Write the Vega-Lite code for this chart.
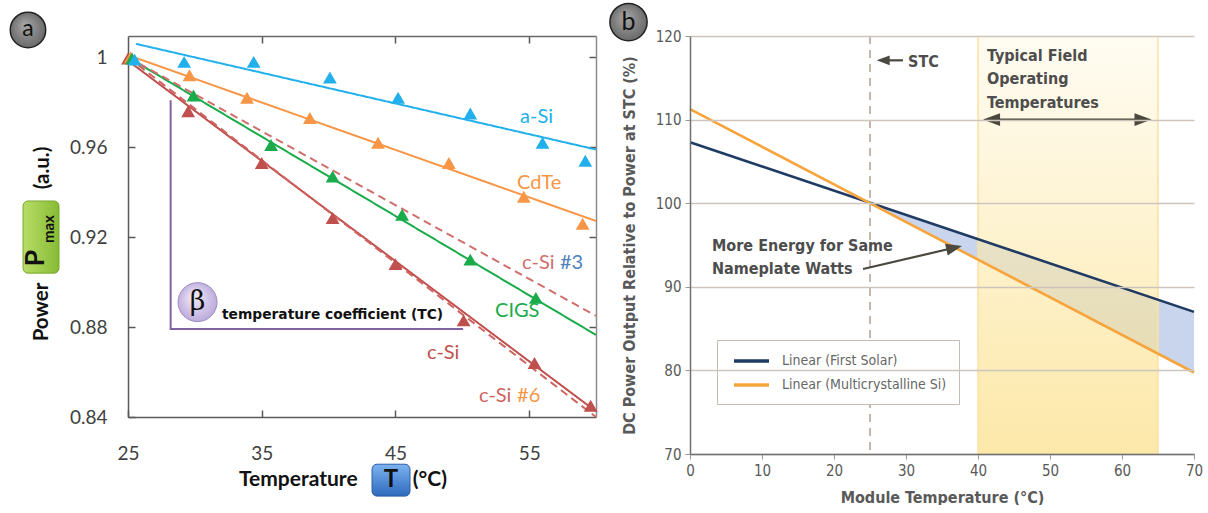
{
  "$schema": "https://vega.github.io/schema/vega-lite/v6.json",
  "padding": {"left": 7, "top": 0, "right": 0, "bottom": 0},
  "background": "white",
  "config": {"view": {"stroke": null}, "axis": {"grid": false}},
  "bounds": "flush",
  "spacing": 94,
  "resolve": {"scale": {"color": "independent", "strokeDash": "independent"}},
  "datasets": {
    "fitsL": [
      {"series": "a-Si", "T": 25.6, "P": 1.006}, {"series": "a-Si", "T": 60, "P": 0.959},
      {"series": "CdTe", "T": 25, "P": 1.001}, {"series": "CdTe", "T": 60, "P": 0.9272},
      {"series": "CIGS", "T": 25, "P": 1.0}, {"series": "CIGS", "T": 60, "P": 0.8765},
      {"series": "c-Si", "T": 25, "P": 0.9985}, {"series": "c-Si", "T": 60, "P": 0.8425},
      {"series": "c-Si #3", "T": 25, "P": 1.0}, {"series": "c-Si #3", "T": 60, "P": 0.885},
      {"series": "c-Si #6", "T": 25, "P": 1.0}, {"series": "c-Si #6", "T": 60, "P": 0.84}
    ],
    "ptsL": [
      {"series": "c-Si", "T": 25, "P": 0.9995},
      {"series": "CdTe", "T": 25.2, "P": 1.0},
      {"series": "CIGS", "T": 25.3, "P": 0.9995},
      {"series": "a-Si", "T": 25.5, "P": 0.999},
      {"series": "a-Si", "T": 29.2, "P": 0.998}, {"series": "a-Si", "T": 34.4, "P": 0.998},
      {"series": "a-Si", "T": 40.1, "P": 0.991}, {"series": "a-Si", "T": 45.2, "P": 0.982},
      {"series": "a-Si", "T": 50.6, "P": 0.975}, {"series": "a-Si", "T": 56.0, "P": 0.962},
      {"series": "a-Si", "T": 59.2, "P": 0.954},
      {"series": "CdTe", "T": 29.6, "P": 0.992}, {"series": "CdTe", "T": 33.9, "P": 0.982},
      {"series": "CdTe", "T": 38.6, "P": 0.973}, {"series": "CdTe", "T": 43.7, "P": 0.962},
      {"series": "CdTe", "T": 49.0, "P": 0.953}, {"series": "CdTe", "T": 54.6, "P": 0.938},
      {"series": "CdTe", "T": 59.0, "P": 0.926},
      {"series": "CIGS", "T": 29.9, "P": 0.983}, {"series": "CIGS", "T": 35.7, "P": 0.961},
      {"series": "CIGS", "T": 40.3, "P": 0.947}, {"series": "CIGS", "T": 45.5, "P": 0.930},
      {"series": "CIGS", "T": 50.6, "P": 0.910}, {"series": "CIGS", "T": 55.5, "P": 0.893},
      {"series": "c-Si", "T": 29.5, "P": 0.976}, {"series": "c-Si", "T": 35.0, "P": 0.953},
      {"series": "c-Si", "T": 40.3, "P": 0.9285}, {"series": "c-Si", "T": 45.0, "P": 0.908},
      {"series": "c-Si", "T": 50.1, "P": 0.883}, {"series": "c-Si", "T": 55.4, "P": 0.864},
      {"series": "c-Si", "T": 59.6, "P": 0.845}
    ],
    "labelsL": [
      {"label": "a-Si", "series": "a-Si", "T": 54.32, "P": 0.9735},
      {"label": "CdTe", "series": "CdTe", "T": 54.1, "P": 0.9443},
      {"label": "c-Si", "series": "c-Si #3", "T": 54.47, "P": 0.9085},
      {"label": "CIGS", "series": "CIGS", "T": 52.45, "P": 0.8871},
      {"label": "c-Si", "series": "c-Si", "T": 47.36, "P": 0.8684},
      {"label": "c-Si", "series": "c-Si #6", "T": 51.25, "P": 0.8493}
    ],
    "fitsR": [
      {"series": "Linear (First Solar)", "T": 0, "V": 107.3},
      {"series": "Linear (First Solar)", "T": 70, "V": 87.0},
      {"series": "Linear (Multicrystalline Si)", "T": 0, "V": 111.25},
      {"series": "Linear (Multicrystalline Si)", "T": 70, "V": 79.75}
    ]
  },
  "hconcat": [
    {
      "width": 468,
      "height": 381,
      "resolve": {"axis": {"x": "independent", "y": "independent"}},
      "layer": [
        {
          "data": {"name": "fitsL"},
          "mark": {"type": "line", "strokeWidth": 2},
          "encoding": {
            "x": {"field": "T", "type": "quantitative", "scale": {"domain": [25, 60], "nice": false, "zero": false},
              "axis": {"orient": "bottom", "values": [25, 35, 45, 55], "title": null, "grid": false, "labelFlush": false, "labelFont": "Lato", "labelFontSize": 19, "labelColor": "#404040", "labelPadding": 34, "domainColor": "#595959", "domainWidth": 1.5, "tickColor": "#595959", "tickWidth": 1.5, "tickSize": -7}},
            "y": {"field": "P", "type": "quantitative", "scale": {"domain": [0.84, 1.0095], "nice": false, "zero": false},
              "axis": {"orient": "left", "values": [0.84, 0.88, 0.92, 0.96, 1], "format": ".2~f", "title": null, "grid": false, "labelFont": "Lato", "labelFontSize": 19, "labelColor": "#404040", "labelPadding": 28, "domainColor": "#595959", "domainWidth": 1.5, "tickColor": "#595959", "tickWidth": 1.5, "tickSize": -7}},
            "color": {"field": "series", "type": "nominal", "legend": null,
              "scale": {"domain": ["a-Si", "CdTe", "CIGS", "c-Si", "c-Si #3", "c-Si #6"], "range": ["#22b0ec", "#f79646", "#1aab4b", "#c0504d", "#cf6f6c", "#cf6360"]}},
            "strokeDash": {"field": "series", "type": "nominal", "legend": null,
              "scale": {"domain": ["a-Si", "CdTe", "CIGS", "c-Si", "c-Si #3", "c-Si #6"], "range": [[1, 0], [1, 0], [1, 0], [1, 0], [8, 5], [8, 5]]}}
          }
        },
        {
          "data": {"values": [{"k": 1, "T": 28.19, "P": 0.9809}, {"k": 2, "T": 28.19, "P": 0.8791}, {"k": 3, "T": 50.06, "P": 0.8791}]},
          "mark": {"type": "line", "color": "#8064a2", "strokeWidth": 2},
          "encoding": {
            "x": {"field": "T", "type": "quantitative", "scale": {"domain": [25, 60], "nice": false, "zero": false}, "axis": null},
            "y": {"field": "P", "type": "quantitative", "scale": {"domain": [0.84, 1.0095], "nice": false, "zero": false}, "axis": null},
            "order": {"field": "k", "type": "quantitative"}
          }
        },
        {
          "data": {"name": "ptsL"},
          "mark": {"type": "point", "shape": "triangle-up", "filled": true, "size": 190, "opacity": 1},
          "encoding": {
            "x": {"field": "T", "type": "quantitative", "scale": {"domain": [25, 60], "nice": false, "zero": false},
              "axis": {"orient": "top", "values": [35, 45, 55], "labels": false, "title": null, "grid": false, "domainColor": "#6a6a6a", "domainWidth": 1.5, "tickColor": "#595959", "tickWidth": 1.5, "tickSize": -7}},
            "y": {"field": "P", "type": "quantitative", "scale": {"domain": [0.84, 1.0095], "nice": false, "zero": false},
              "axis": {"orient": "right", "values": [0.88, 0.92, 0.96, 1], "labels": false, "title": null, "grid": false, "domainColor": "#8c8c8c", "domainWidth": 1.5, "tickColor": "#595959", "tickWidth": 1.5, "tickSize": -7}},
            "color": {"field": "series", "type": "nominal", "legend": null,
              "scale": {"domain": ["a-Si", "CdTe", "CIGS", "c-Si", "c-Si #3", "c-Si #6"], "range": ["#22b0ec", "#f79646", "#1aab4b", "#c0504d", "#cf6f6c", "#cf6360"]}}
          }
        },
        {
          "data": {"name": "labelsL"},
          "mark": {"type": "text", "font": "Lato", "fontSize": 20, "align": "left", "baseline": "middle"},
          "encoding": {
            "x": {"field": "T", "type": "quantitative", "scale": {"domain": [25, 60], "nice": false, "zero": false}, "axis": null},
            "y": {"field": "P", "type": "quantitative", "scale": {"domain": [0.84, 1.0095], "nice": false, "zero": false}, "axis": null},
            "text": {"field": "label"},
            "color": {"field": "series", "type": "nominal", "legend": null,
              "scale": {"domain": ["a-Si", "CdTe", "CIGS", "c-Si", "c-Si #3", "c-Si #6"], "range": ["#22b0ec", "#f79646", "#1aab4b", "#c0504d", "#cf6f6c", "#cf6360"]}}
          }
        },
        {
          "data": {"values": [{"label": "#3", "T": 57.3, "P": 0.9085}]},
          "mark": {"type": "text", "font": "Lato", "fontSize": 20, "align": "left", "baseline": "middle", "color": "#4f81bd"},
          "encoding": {
            "x": {"field": "T", "type": "quantitative", "scale": {"domain": [25, 60], "nice": false, "zero": false}, "axis": null},
            "y": {"field": "P", "type": "quantitative", "scale": {"domain": [0.84, 1.0095], "nice": false, "zero": false}, "axis": null},
            "text": {"field": "label"}
          }
        },
        {
          "data": {"values": [{"label": "#6", "T": 54.1, "P": 0.8493}]},
          "mark": {"type": "text", "font": "Lato", "fontSize": 20, "align": "left", "baseline": "middle", "color": "#f79646"},
          "encoding": {
            "x": {"field": "T", "type": "quantitative", "scale": {"domain": [25, 60], "nice": false, "zero": false}, "axis": null},
            "y": {"field": "P", "type": "quantitative", "scale": {"domain": [0.84, 1.0095], "nice": false, "zero": false}, "axis": null},
            "text": {"field": "label"}
          }
        },
        {
          "data": {"values": [{"T": 30.2, "P": 0.8911}]},
          "mark": {"type": "point", "shape": "circle", "size": 1520, "filled": true, "opacity": 1, "strokeWidth": 1, "stroke": "#9f8ac6",
            "fill": {"gradient": "radial", "x1": 0.4, "y1": 0.35, "r1": 0, "x2": 0.5, "y2": 0.5, "r2": 0.6, "stops": [{"offset": 0, "color": "#f4effb"}, {"offset": 1, "color": "#b3a0d6"}]}},
          "encoding": {
            "x": {"field": "T", "type": "quantitative", "scale": {"domain": [25, 60], "nice": false, "zero": false}, "axis": null},
            "y": {"field": "P", "type": "quantitative", "scale": {"domain": [0.84, 1.0095], "nice": false, "zero": false}, "axis": null}
          }
        },
        {
          "data": {"values": [{"label": "β", "T": 30.2, "P": 0.8911}]},
          "mark": {"type": "text", "font": "DejaVu Serif", "fontSize": 27, "align": "center", "baseline": "middle", "color": "#111111"},
          "encoding": {
            "x": {"field": "T", "type": "quantitative", "scale": {"domain": [25, 60], "nice": false, "zero": false}, "axis": null},
            "y": {"field": "P", "type": "quantitative", "scale": {"domain": [0.84, 1.0095], "nice": false, "zero": false}, "axis": null},
            "text": {"field": "label"}
          }
        },
        {
          "data": {"values": [{"label": "temperature coefficient  (TC)", "T": 32.03, "P": 0.8853}]},
          "mark": {"type": "text", "font": "DejaVu Sans", "fontWeight": "bold", "fontSize": 13.8, "align": "left", "baseline": "middle", "color": "#111111"},
          "encoding": {
            "x": {"field": "T", "type": "quantitative", "scale": {"domain": [25, 60], "nice": false, "zero": false}, "axis": null},
            "y": {"field": "P", "type": "quantitative", "scale": {"domain": [0.84, 1.0095], "nice": false, "zero": false}, "axis": null},
            "text": {"field": "label"}
          }
        },
        {
          "data": {"values": [{"T": 17.52, "P": 1.0122}]},
          "mark": {"type": "point", "shape": "circle", "size": 1257, "filled": true, "opacity": 1, "strokeWidth": 1.5, "stroke": "#222222",
            "fill": {"gradient": "radial", "x1": 0.4, "y1": 0.35, "r1": 0, "x2": 0.5, "y2": 0.5, "r2": 0.55, "stops": [{"offset": 0, "color": "#a8a8a8"}, {"offset": 1, "color": "#666666"}]}},
          "encoding": {
            "x": {"field": "T", "type": "quantitative", "scale": {"domain": [25, 60], "nice": false, "zero": false}, "axis": null},
            "y": {"field": "P", "type": "quantitative", "scale": {"domain": [0.84, 1.0095], "nice": false, "zero": false}, "axis": null}
          }
        },
        {
          "data": {"values": [{"label": "a", "T": 17.52, "P": 1.0124}]},
          "mark": {"type": "text", "font": "Lato", "fontSize": 23, "align": "center", "baseline": "middle", "color": "#111111"},
          "encoding": {
            "x": {"field": "T", "type": "quantitative", "scale": {"domain": [25, 60], "nice": false, "zero": false}, "axis": null},
            "y": {"field": "P", "type": "quantitative", "scale": {"domain": [0.84, 1.0095], "nice": false, "zero": false}, "axis": null},
            "text": {"field": "label"}
          }
        },
        {
          "data": {"values": [{"T1": 17.15, "T2": 19.84, "P1": 0.9361, "P2": 0.904}]},
          "mark": {"type": "rect", "cornerRadius": 5, "stroke": "#7aa92f", "strokeWidth": 1,
            "fill": {"gradient": "linear", "x1": 0, "y1": 0, "x2": 1, "y2": 0, "stops": [{"offset": 0, "color": "#b8dd66"}, {"offset": 1, "color": "#86bb35"}]}},
          "encoding": {
            "x": {"field": "T1", "type": "quantitative", "scale": {"domain": [25, 60], "nice": false, "zero": false}, "axis": null},
            "x2": {"field": "T2"},
            "y": {"field": "P1", "type": "quantitative", "scale": {"domain": [0.84, 1.0095], "nice": false, "zero": false}, "axis": null},
            "y2": {"field": "P2"}
          }
        },
        {
          "data": {"values": [{"label": "P", "T": 18.12, "P": 0.9107}]},
          "mark": {"type": "text", "font": "Lato", "fontWeight": "bold", "fontSize": 27, "angle": 270, "align": "center", "baseline": "middle", "color": "#111111"},
          "encoding": {
            "x": {"field": "T", "type": "quantitative", "scale": {"domain": [25, 60], "nice": false, "zero": false}, "axis": null},
            "y": {"field": "P", "type": "quantitative", "scale": {"domain": [0.84, 1.0095], "nice": false, "zero": false}, "axis": null},
            "text": {"field": "label"}
          }
        },
        {
          "data": {"values": [{"label": "max", "T": 19.09, "P": 0.9236}]},
          "mark": {"type": "text", "font": "Lato", "fontWeight": "bold", "fontSize": 15, "angle": 270, "align": "center", "baseline": "middle", "color": "#111111"},
          "encoding": {
            "x": {"field": "T", "type": "quantitative", "scale": {"domain": [25, 60], "nice": false, "zero": false}, "axis": null},
            "y": {"field": "P", "type": "quantitative", "scale": {"domain": [0.84, 1.0095], "nice": false, "zero": false}, "axis": null},
            "text": {"field": "label"}
          }
        },
        {
          "data": {"values": [{"label": "Power", "T": 18.57, "P": 0.8867}, {"label": "(a.u.)", "T": 18.64, "P": 0.9508}]},
          "mark": {"type": "text", "font": "Lato", "fontWeight": "bold", "fontSize": 20.5, "angle": 270, "align": "center", "baseline": "middle", "color": "#111111"},
          "encoding": {
            "x": {"field": "T", "type": "quantitative", "scale": {"domain": [25, 60], "nice": false, "zero": false}, "axis": null},
            "y": {"field": "P", "type": "quantitative", "scale": {"domain": [0.84, 1.0095], "nice": false, "zero": false}, "axis": null},
            "text": {"field": "label"}
          }
        },
        {
          "data": {"values": [{"T1": 43.25, "T2": 46.09, "P1": 0.819, "P2": 0.8048}]},
          "mark": {"type": "rect", "cornerRadius": 5, "stroke": "#2a5ea8", "strokeWidth": 1,
            "fill": {"gradient": "linear", "x1": 0, "y1": 0, "x2": 0, "y2": 1, "stops": [{"offset": 0, "color": "#7cb3ef"}, {"offset": 1, "color": "#2e69bd"}]}},
          "encoding": {
            "x": {"field": "T1", "type": "quantitative", "scale": {"domain": [25, 60], "nice": false, "zero": false}, "axis": null},
            "x2": {"field": "T2"},
            "y": {"field": "P1", "type": "quantitative", "scale": {"domain": [0.84, 1.0095], "nice": false, "zero": false}, "axis": null},
            "y2": {"field": "P2"}
          }
        },
        {
          "data": {"values": [{"label": "T", "T": 44.67, "P": 0.8119}]},
          "mark": {"type": "text", "font": "Lato", "fontWeight": "bold", "fontSize": 24, "align": "center", "baseline": "middle", "color": "#111111"},
          "encoding": {
            "x": {"field": "T", "type": "quantitative", "scale": {"domain": [25, 60], "nice": false, "zero": false}, "axis": null},
            "y": {"field": "P", "type": "quantitative", "scale": {"domain": [0.84, 1.0095], "nice": false, "zero": false}, "axis": null},
            "text": {"field": "label"}
          }
        },
        {
          "data": {"values": [{"label": "Temperature", "T": 33.3, "P": 0.8119}, {"label": "(°C)", "T": 46.3, "P": 0.8119}]},
          "mark": {"type": "text", "font": "Lato", "fontWeight": "bold", "fontSize": 21, "align": "left", "baseline": "middle", "color": "#111111"},
          "encoding": {
            "x": {"field": "T", "type": "quantitative", "scale": {"domain": [25, 60], "nice": false, "zero": false}, "axis": null},
            "y": {"field": "P", "type": "quantitative", "scale": {"domain": [0.84, 1.0095], "nice": false, "zero": false}, "axis": null},
            "text": {"field": "label"}
          }
        }
      ]
    },
    {
      "width": 504,
      "height": 418,
      "layer": [
        {
          "data": {"values": [{"T": 25, "lo": 100, "hi": 100}, {"T": 70, "lo": 79.75, "hi": 87.0}]},
          "mark": {"type": "area", "color": "#c8d5ed", "opacity": 1},
          "encoding": {
            "x": {"field": "T", "type": "quantitative", "scale": {"domain": [0, 70], "nice": false, "zero": false},
              "axis": {"orient": "bottom", "values": [0, 5, 10, 15, 20, 25, 30, 35, 40, 45, 50, 55, 60, 65, 70], "labelExpr": "datum.value % 10 === 0 ? datum.label : ''", "labelFlush": false, "title": "Module Temperature (°C)", "titleFont": "DejaVu Sans Condensed, DejaVu Sans, sans-serif", "titleFontSize": 16, "titleFontWeight": "bold", "titleColor": "#595959", "titlePadding": 11, "labelFont": "DejaVu Sans Condensed, DejaVu Sans, sans-serif", "labelFontSize": 15, "labelColor": "#595959", "labelPadding": 4, "domainColor": "#707070", "domainWidth": 1.5, "tickColor": "#9a9a9a", "tickSize": 5, "tickWidth": 1, "grid": false, "zindex": 1}},
            "y": {"field": "lo", "type": "quantitative", "scale": {"domain": [70, 120], "nice": false, "zero": false},
              "axis": {"orient": "left", "values": [70, 80, 90, 100, 110, 120], "title": "DC Power Output Relative to Power at STC (%)", "titleFont": "DejaVu Sans Condensed, DejaVu Sans, sans-serif", "titleFontSize": 16, "titleFontWeight": "bold", "titleColor": "#595959", "titlePadding": 18, "labelFont": "DejaVu Sans Condensed, DejaVu Sans, sans-serif", "labelFontSize": 15, "labelColor": "#595959", "labelPadding": 4, "domainColor": "#707070", "domainWidth": 1.5, "tickColor": "#9a9a9a", "tickSize": 5, "grid": true, "gridColor": "#cdc5bb", "gridWidth": 1.5, "zindex": 1}},
            "y2": {"field": "hi"}
          }
        },
        {
          "data": {"values": [{"from": 40, "to": 65}]},
          "mark": {"type": "rect", "opacity": 0.6,
            "fill": {"gradient": "linear", "x1": 0, "y1": 0, "x2": 0, "y2": 1, "stops": [{"offset": 0, "color": "#fffaea"}, {"offset": 1, "color": "#fbd96f"}]}},
          "encoding": {
            "x": {"field": "from", "type": "quantitative", "scale": {"domain": [0, 70], "nice": false, "zero": false}},
            "x2": {"field": "to"}
          }
        },
        {
          "data": {"values": [{"T": 40}, {"T": 65}]},
          "mark": {"type": "rule", "color": "#fbe1a0", "strokeWidth": 1.5},
          "encoding": {
            "x": {"field": "T", "type": "quantitative", "scale": {"domain": [0, 70], "nice": false, "zero": false}}
          }
        },
        {
          "data": {"values": [{"T": 25}]},
          "mark": {"type": "rule", "color": "#a8907f", "strokeWidth": 1.3, "strokeDash": [8, 6]},
          "encoding": {
            "x": {"field": "T", "type": "quantitative", "scale": {"domain": [0, 70], "nice": false, "zero": false}}
          }
        },
        {
          "data": {"name": "fitsR"},
          "mark": {"type": "line", "strokeWidth": 2.6},
          "encoding": {
            "x": {"field": "T", "type": "quantitative", "scale": {"domain": [0, 70], "nice": false, "zero": false}},
            "y": {"field": "V", "type": "quantitative", "scale": {"domain": [70, 120], "nice": false, "zero": false}},
            "color": {"field": "series", "type": "nominal",
              "scale": {"domain": ["Linear (First Solar)", "Linear (Multicrystalline Si)"], "range": ["#1f3a63", "#f7a43c"]},
              "legend": {"orient": "none", "legendX": 27, "legendY": 304, "title": null, "direction": "vertical", "fillColor": "#ffffff", "strokeColor": "#c4bcb2", "padding": 12, "symbolType": "M-0.57,0H4.43", "symbolSize": 196, "symbolStrokeWidth": 3.5, "labelFont": "DejaVu Sans Condensed, DejaVu Sans, sans-serif", "labelFontSize": 14, "labelColor": "#666666", "labelOffset": 35, "labelLimit": 400, "rowPadding": 8}}
          }
        },
        {
          "data": {"values": [
            {"id": "stc", "T": 26.5, "V": 117.09}, {"id": "stc", "T": 29.58, "V": 117.09},
            {"id": "range", "T": 41.5, "V": 110}, {"id": "range", "T": 63.3, "V": 110},
            {"id": "energy", "T": 24.03, "V": 92.13}, {"id": "energy", "T": 36.69, "V": 94.67}
          ]},
          "mark": {"type": "line", "color": "#4a483f", "strokeWidth": 2.2},
          "encoding": {
            "x": {"field": "T", "type": "quantitative", "scale": {"domain": [0, 70], "nice": false, "zero": false}},
            "y": {"field": "V", "type": "quantitative", "scale": {"domain": [70, 120], "nice": false, "zero": false}},
            "detail": {"field": "id"}
          }
        },
        {
          "data": {"values": [{"T": 26.83, "V": 117.09}]},
          "mark": {"type": "point", "shape": "M-1,0L1,-0.75L1,0.75Z", "size": 169, "filled": true, "opacity": 1, "color": "#4a483f"},
          "encoding": {
            "x": {"field": "T", "type": "quantitative", "scale": {"domain": [0, 70], "nice": false, "zero": false}},
            "y": {"field": "V", "type": "quantitative", "scale": {"domain": [70, 120], "nice": false, "zero": false}}
          }
        },
        {
          "data": {"values": [{"T": 41.88, "V": 110}]},
          "mark": {"type": "point", "shape": "M-1,0L1,-0.75L1,0.75Z", "size": 289, "filled": true, "opacity": 1, "color": "#4a483f"},
          "encoding": {
            "x": {"field": "T", "type": "quantitative", "scale": {"domain": [0, 70], "nice": false, "zero": false}},
            "y": {"field": "V", "type": "quantitative", "scale": {"domain": [70, 120], "nice": false, "zero": false}}
          }
        },
        {
          "data": {"values": [{"T": 62.92, "V": 110}]},
          "mark": {"type": "point", "shape": "M1,0L-1,-0.75L-1,0.75Z", "size": 289, "filled": true, "opacity": 1, "color": "#4a483f"},
          "encoding": {
            "x": {"field": "T", "type": "quantitative", "scale": {"domain": [0, 70], "nice": false, "zero": false}},
            "y": {"field": "V", "type": "quantitative", "scale": {"domain": [70, 120], "nice": false, "zero": false}}
          }
        },
        {
          "data": {"values": [{"T": 36.69, "V": 94.67}]},
          "mark": {"type": "point", "shape": "M1,0L-1,-0.75L-1,0.75Z", "size": 256, "angle": -13, "filled": true, "opacity": 1, "color": "#4a483f"},
          "encoding": {
            "x": {"field": "T", "type": "quantitative", "scale": {"domain": [0, 70], "nice": false, "zero": false}},
            "y": {"field": "V", "type": "quantitative", "scale": {"domain": [70, 120], "nice": false, "zero": false}}
          }
        },
        {
          "data": {"values": [
            {"label": "STC", "T": 30.28, "V": 116.89},
            {"label": "Typical Field", "T": 41.25, "V": 117.61},
            {"label": "Operating", "T": 41.25, "V": 114.8},
            {"label": "Temperatures", "T": 41.25, "V": 112.02},
            {"label": "More Energy for Same", "T": 3.06, "V": 94.88},
            {"label": "Nameplate Watts", "T": 3.06, "V": 92.13}
          ]},
          "mark": {"type": "text", "font": "DejaVu Sans Condensed, DejaVu Sans, sans-serif", "fontWeight": "bold", "fontSize": 16, "align": "left", "baseline": "middle", "color": "#4d4d4d"},
          "encoding": {
            "x": {"field": "T", "type": "quantitative", "scale": {"domain": [0, 70], "nice": false, "zero": false}},
            "y": {"field": "V", "type": "quantitative", "scale": {"domain": [70, 120], "nice": false, "zero": false}},
            "text": {"field": "label"}
          }
        },
        {
          "data": {"values": [{"T": -8.54, "V": 121.67}]},
          "mark": {"type": "point", "shape": "circle", "size": 1385, "filled": true, "opacity": 1, "strokeWidth": 1.5, "stroke": "#222222",
            "fill": {"gradient": "radial", "x1": 0.4, "y1": 0.35, "r1": 0, "x2": 0.5, "y2": 0.5, "r2": 0.55, "stops": [{"offset": 0, "color": "#a8a8a8"}, {"offset": 1, "color": "#666666"}]}},
          "encoding": {
            "x": {"field": "T", "type": "quantitative", "scale": {"domain": [0, 70], "nice": false, "zero": false}},
            "y": {"field": "V", "type": "quantitative", "scale": {"domain": [70, 120], "nice": false, "zero": false}}
          }
        },
        {
          "data": {"values": [{"label": "b", "T": -8.54, "V": 121.7}]},
          "mark": {"type": "text", "font": "Lato", "fontSize": 25, "align": "center", "baseline": "middle", "color": "#111111"},
          "encoding": {
            "x": {"field": "T", "type": "quantitative", "scale": {"domain": [0, 70], "nice": false, "zero": false}},
            "y": {"field": "V", "type": "quantitative", "scale": {"domain": [70, 120], "nice": false, "zero": false}},
            "text": {"field": "label"}
          }
        }
      ]
    }
  ]
}
